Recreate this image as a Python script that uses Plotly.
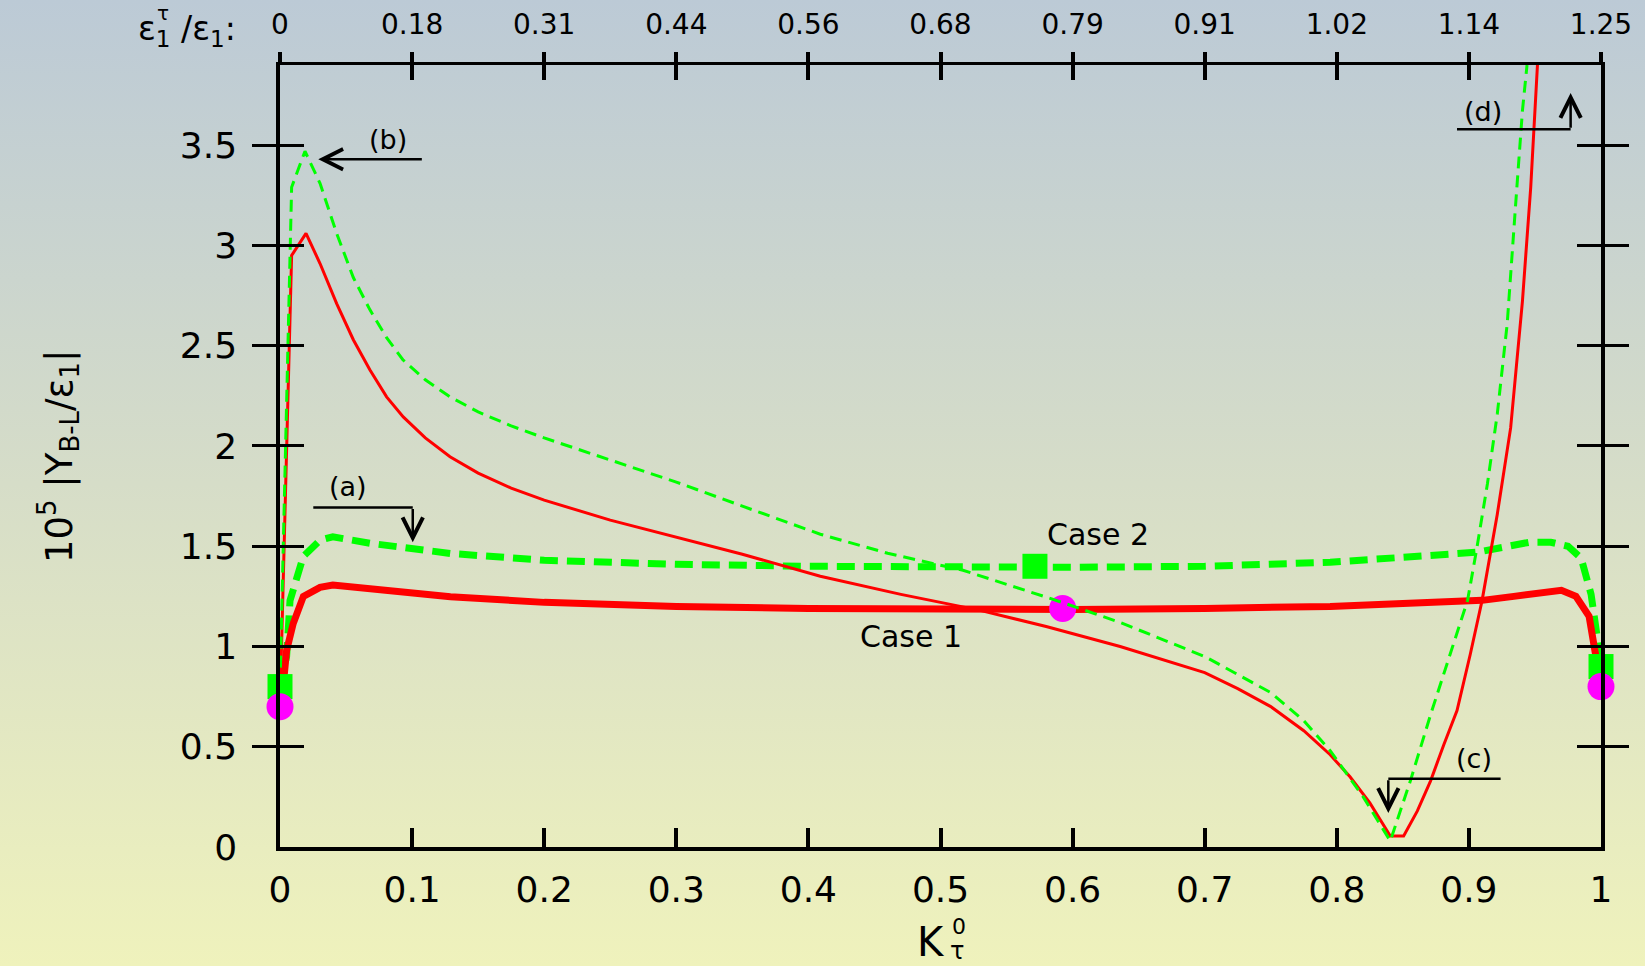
import base64
import plotly.graph_objects as go

# ---------------- data ----------------
# Case 1, thick red solid
case1_x = [0, 0.0013, 0.005, 0.010, 0.0177, 0.0303, 0.040, 0.068, 0.129, 0.2, 0.3, 0.4, 0.5, 0.6,
           0.7, 0.795, 0.85, 0.91, 0.934, 0.962, 0.970, 0.981, 0.991, 1.0]
case1_y = [0.70, 0.73, 0.98, 1.115, 1.25, 1.295, 1.306, 1.29, 1.248, 1.22, 1.20, 1.19, 1.185, 1.185,
           1.19, 1.20, 1.215, 1.23, 1.25, 1.28, 1.28, 1.25, 1.15, 0.80]

# Case 2, thick green dashed
case2_x = [0, 0.005, 0.0076, 0.0177, 0.0303, 0.040, 0.068, 0.129, 0.2, 0.3, 0.4, 0.5, 0.6, 0.7,
           0.795, 0.906, 0.946, 0.962, 0.975, 0.985, 0.9925, 0.9975, 1.0]
case2_y = [0.80, 0.95, 1.23, 1.45, 1.53, 1.547, 1.515, 1.464, 1.43, 1.41, 1.40, 1.395, 1.395, 1.40,
           1.42, 1.47, 1.52, 1.52, 1.50, 1.44, 1.26, 1.03, 0.90]

# thin red solid
thin_red_x = [0, 0.0088, 0.0197, 0.0303, 0.0429, 0.0555, 0.068, 0.0807, 0.0933, 0.11, 0.1287, 0.15,
              0.175, 0.2, 0.25, 0.3, 0.35, 0.409, 0.47, 0.53, 0.58, 0.636, 0.7, 0.725, 0.75, 0.775,
              0.795, 0.81, 0.825, 0.8405, 0.8506, 0.861, 0.871, 0.881, 0.891, 0.901, 0.910, 0.9215,
              0.9316, 0.9405, 0.9468, 0.9519]
thin_red_y = [0.70, 2.95, 3.06, 2.91, 2.71, 2.53, 2.38, 2.245, 2.145, 2.04, 1.946, 1.865,
              1.79, 1.73, 1.63, 1.545, 1.46, 1.35, 1.26, 1.18, 1.10, 1.00, 0.87, 0.79, 0.70, 0.58,
              0.46, 0.35, 0.22, 0.055, 0.055, 0.18, 0.33, 0.51, 0.68, 0.96, 1.23, 1.66,
              2.09, 2.72, 3.29, 3.90]

# thin green dashed
thin_green_x = [0, 0.0088, 0.0189, 0.0303, 0.0429, 0.0555, 0.068, 0.0807, 0.093, 0.11, 0.1287, 0.15,
                0.175, 0.2, 0.25, 0.3, 0.35, 0.409, 0.46, 0.517, 0.55, 0.583, 0.636, 0.7, 0.75,
                0.775, 0.795, 0.820, 0.8405, 0.8557, 0.871, 0.886, 0.899, 0.906, 0.914, 0.9215,
                0.929, 0.935, 0.9405, 0.944]
thin_green_y = [0.80, 3.29, 3.47, 3.31, 3.06, 2.84, 2.68, 2.54, 2.43, 2.33, 2.245, 2.17,
                2.10, 2.04, 1.93, 1.82, 1.70, 1.56, 1.465, 1.38, 1.31, 1.24, 1.12, 0.95, 0.77,
                0.63, 0.48, 0.25, 0.03, 0.33, 0.66, 0.96, 1.23, 1.49, 1.81, 2.16,
                2.61, 3.17, 3.67, 3.90]

# markers
case1_mark_x = [0, 0.5925, 1.0]
case1_mark_y = [0.70, 1.19, 0.80]
case2_mark_x = [0, 0.5715, 1.0]
case2_mark_y = [0.80, 1.40, 0.90]

# ticks
bottom_ticks = [0, 0.1, 0.2, 0.3, 0.4, 0.5, 0.6, 0.7, 0.8, 0.9, 1.0]
bottom_labels = ["0", "0.1", "0.2", "0.3", "0.4", "0.5", "0.6", "0.7", "0.8", "0.9", "1"]
top_labels = ["0", "0.18", "0.31", "0.44", "0.56", "0.68", "0.79", "0.91", "1.02", "1.14", "1.25"]
y_ticks = [0, 0.5, 1, 1.5, 2, 2.5, 3, 3.5]
y_labels = ["0", "0.5", "1", "1.5", "2", "2.5", "3", "3.5"]

FONT = "DejaVu Sans"
RED = "#ff0000"
GREEN = "#00ff00"
MAGENTA = "#ff00ff"

fig = go.Figure()

fig.add_trace(go.Scatter(x=case2_x, y=case2_y, mode="lines",
                         line=dict(color=GREEN, width=7, dash="18px,9px"), hoverinfo="skip"))
fig.add_trace(go.Scatter(x=case1_x, y=case1_y, mode="lines",
                         line=dict(color=RED, width=7), hoverinfo="skip"))
fig.add_trace(go.Scatter(x=thin_red_x, y=thin_red_y, mode="lines",
                         line=dict(color=RED, width=3), hoverinfo="skip"))
fig.add_trace(go.Scatter(x=case2_mark_x, y=case2_mark_y, mode="markers", cliponaxis=False,
                         marker=dict(symbol="square", size=25, color=GREEN), hoverinfo="skip"))
fig.add_trace(go.Scatter(x=case1_mark_x, y=case1_mark_y, mode="markers", cliponaxis=False,
                         marker=dict(symbol="circle", size=27, color=MAGENTA), hoverinfo="skip"))
fig.add_trace(go.Scatter(x=thin_green_x, y=thin_green_y, mode="lines",
                         line=dict(color=GREEN, width=3, dash="12px,7px"), hoverinfo="skip"))
# invisible traces so the top axes are drawn
fig.add_trace(go.Scatter(x=[0.5], y=[-1], xaxis="x2", mode="markers",
                         marker=dict(opacity=0), hoverinfo="skip"))
fig.add_trace(go.Scatter(x=[0.5], y=[-1], xaxis="x3", mode="markers",
                         marker=dict(opacity=0), hoverinfo="skip"))

# background gradient
svg = ('<svg xmlns="http://www.w3.org/2000/svg" width="1645" height="966" preserveAspectRatio="none">'
       '<defs><linearGradient id="g" x1="0" y1="0" x2="0" y2="1">'
       '<stop offset="0" stop-color="#bccad6"/><stop offset="0.5" stop-color="#d6ddc8"/>'
       '<stop offset="1" stop-color="#eff2bc"/></linearGradient></defs>'
       '<rect width="1645" height="966" fill="url(#g)"/></svg>')
src = "data:image/svg+xml;base64," + base64.b64encode(svg.encode()).decode()

L, R, T, B = 280, 44, 65, 119
W, H = 1645, 966
pw, ph = W - L - R, H - T - B

axis_common = dict(range=[0, 1], showgrid=False, zeroline=False, linecolor="black",
                   tickcolor="black", automargin=False)

fig.update_layout(
    width=W, height=H,
    margin=dict(l=L, r=R, t=T, b=B, pad=0, autoexpand=False),
    paper_bgcolor="#d6ddc8", plot_bgcolor="rgba(0,0,0,0)",
    showlegend=False,
    font=dict(family=FONT, color="black"),
    images=[dict(source=src, xref="paper", yref="paper", x=-L / pw, y=1 + T / ph,
                 sizex=W / pw, sizey=H / ph, xanchor="left", yanchor="top",
                 sizing="stretch", layer="below")],
    xaxis=dict(**axis_common, tickmode="array", tickvals=bottom_ticks, ticktext=bottom_labels,
               ticks="inside", ticklen=19, tickwidth=3.5, showline=True, linewidth=3.5,
               tickfont=dict(size=36, family=FONT), ticklabelstandoff=8),
    xaxis2=dict(**axis_common, overlaying="x", side="top", anchor="y", tickmode="array",
                tickvals=bottom_ticks, ticktext=top_labels, ticks="inside", ticklen=15,
                tickwidth=3.5, showline=True, linewidth=2.5,
                tickfont=dict(size=28, family=FONT), ticklabelstandoff=17),
    xaxis3=dict(**axis_common, overlaying="x", side="top", anchor="y", tickmode="array",
                tickvals=bottom_ticks, ticks="outside", ticklen=12, tickwidth=3.5,
                showticklabels=False, showline=False),
    yaxis=dict(range=[0, 3.9], showgrid=False, zeroline=False, linecolor="black", tickcolor="black",
               automargin=False, tickmode="array", tickvals=y_ticks, ticktext=y_labels,
               ticks="inside", ticklen=24, tickwidth=2.5, showline=True, linewidth=3.5,
               mirror="allticks", tickfont=dict(size=36, family=FONT), ticklabelstandoff=32),
)

LW = 2.5
shapes = [
    dict(type="line", xref="x", yref="y", x0=0.0252, x1=0.1005, y0=1.693, y1=1.693,
         line=dict(color="black", width=LW)),
    dict(type="line", xref="x", yref="y", x0=0.839, x1=0.924, y0=0.34, y1=0.34,
         line=dict(color="black", width=LW)),
    dict(type="line", xref="x", yref="y", x0=0.891, x1=0.977, y0=3.58, y1=3.58,
         line=dict(color="black", width=LW)),
]
fig.update_layout(shapes=shapes)


def arrow(x, y, ax, ay):
    fig.add_annotation(x=x, y=y, ax=ax, ay=ay, xref="x", yref="y", axref="x", ayref="y",
                       text="", showarrow=True, arrowhead=5, arrowsize=1.6, arrowwidth=LW,
                       arrowcolor="black", standoff=0)


arrow(0.1005, 1.52, 0.1005, 1.693)   # (a)
arrow(0.029, 3.43, 0.1085, 3.43)     # (b)
arrow(0.839, 0.17, 0.839, 0.34)      # (c)
arrow(0.977, 3.76, 0.977, 3.58)      # (d)


def label(text, x, y, size, xref="x", yref="y", **kw):
    fig.add_annotation(x=x, y=y, xref=xref, yref=yref, text=text, showarrow=False,
                       font=dict(size=size, family=FONT, color="black"), **kw)


label("(a)", 0.0517, 1.80, 27)
label("(b)", 0.082, 3.53, 27)
label("(c)", 0.904, 0.44, 27)
label("(d)", 0.911, 3.67, 27)
label("Case 1", 0.478, 1.05, 30)
label("Case 2", 0.619, 1.56, 30)

# axis titles as paper annotations
label("10<sup>5</sup> |Y<sub>B-L</sub>/ε<sub>1</sub>|", (58 - L) / pw, (H - B - 456) / ph, 37,
      xref="paper", yref="paper", textangle=-90, xanchor="center", yanchor="middle")
label("K", (931 - L) / pw, (H - B - 942) / ph, 40, xref="paper", yref="paper",
      xanchor="center", yanchor="middle")
label("0", (959 - L) / pw, (H - B - 926) / ph, 22, xref="paper", yref="paper",
      xanchor="center", yanchor="middle")
label("τ", (957 - L) / pw, (H - B - 951) / ph, 24, xref="paper", yref="paper",
      xanchor="center", yanchor="middle")
label("ε<sub>1</sub> /ε<sub>1</sub>:", (238 - L) / pw, (H - B - 30) / ph, 33, xref="paper",
      yref="paper", xanchor="right", yanchor="middle")
label("τ", (163 - L) / pw, (H - B - 13) / ph, 20, xref="paper", yref="paper",
      xanchor="center", yanchor="middle")

fig.write_html("out.html", config={"displayModeBar": False},
               post_script="document.body.style.margin='0';document.body.style.overflow='hidden';")
